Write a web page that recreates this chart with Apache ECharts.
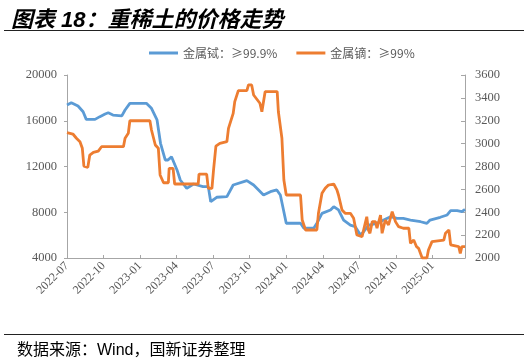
<!DOCTYPE html>
<html>
<head>
<meta charset="utf-8">
<script src="https://cdn.jsdelivr.net/npm/echarts@6/dist/echarts.min.js"></script>
<style>html,body{margin:0;padding:0;background:#fff;}#c{width:529px;height:362px;}</style>
</head>
<body>
<div id="c"></div>
<script>
// ---- data ----
const titleText = '图表 18：重稀土的价格走势';
const sourceText = '数据来源：Wind，国新证券整理';
const seriesNames = ['金属铽：≥99.9%', '金属镝：≥99%'];
const xTickLabels = ['2022-07','2022-10','2023-01','2023-04','2023-07','2023-10','2024-01','2024-04','2024-07','2024-10','2025-01'];
const leftTicks = [4000, 8000, 12000, 16000, 20000];
const rightTicks = [2000, 2200, 2400, 2600, 2800, 3000, 3200, 3400, 3600];
const xStart = '2022-07-01';
const xEnd = '2025-03-22';

// 金属铽 (left axis)
const tbDates = ['2022-07-01','2022-07-12','2022-07-29','2022-08-11','2022-08-19','2022-09-10','2022-09-22','2022-10-05','2022-10-13','2022-10-25','2022-11-16','2022-11-24','2022-12-06','2023-01-17','2023-01-30','2023-02-12','2023-02-20','2023-03-03','2023-03-10','2023-03-19','2023-04-02','2023-04-10','2023-04-26','2023-05-13','2023-06-06','2023-06-19','2023-06-25','2023-07-10','2023-08-05','2023-08-21','2023-09-24','2023-10-11','2023-11-05','2023-11-22','2023-12-08','2023-12-17','2023-12-25','2024-01-01','2024-02-06','2024-02-14','2024-03-09','2024-03-17','2024-03-30','2024-04-20','2024-04-28','2024-05-10','2024-05-23','2024-06-09','2024-06-21','2024-07-04','2024-07-12','2024-07-25','2024-08-15','2024-09-01','2024-09-18','2024-10-04','2024-10-20','2024-11-07','2024-12-02','2024-12-18','2024-12-26','2025-01-21','2025-02-07','2025-02-15','2025-03-02','2025-03-14','2025-03-22'];
const tbValues = [17380,17580,17290,16790,16120,16120,16360,16590,16700,16500,16420,16940,17520,17520,17085,16070,14030,12570,12570,12860,11700,10820,10090,10470,10240,10240,8920,9310,9360,10380,10760,10380,9510,9800,9950,9510,8200,7040,7040,6600,6600,7040,7900,8200,8490,8200,7320,6880,6740,6010,6300,6880,7030,7320,7610,7460,7460,7320,7170,7030,7320,7560,7760,8140,8140,8050,8260];

// 金属镝 (right axis)
const dyDates = ['2022-07-01','2022-07-16','2022-07-25','2022-08-03','2022-08-09','2022-08-13','2022-08-23','2022-08-28','2022-09-06','2022-09-18','2022-09-26','2022-11-20','2022-11-24','2022-12-02','2022-12-06','2023-01-26','2023-01-30','2023-02-08','2023-02-15','2023-02-19','2023-02-27','2023-03-11','2023-03-13','2023-03-23','2023-03-27','2023-05-25','2023-05-27','2023-06-15','2023-06-19','2023-06-28','2023-07-02','2023-07-08','2023-07-18','2023-08-05','2023-08-09','2023-08-21','2023-08-25','2023-09-03','2023-09-24','2023-09-28','2023-10-06','2023-10-11','2023-10-27','2023-11-01','2023-11-05','2023-11-09','2023-12-09','2023-12-12','2023-12-21','2023-12-26','2024-01-01','2024-02-06','2024-02-10','2024-02-18','2024-03-17','2024-03-21','2024-03-30','2024-04-07','2024-04-15','2024-04-28','2024-05-06','2024-05-10','2024-05-19','2024-05-27','2024-06-09','2024-06-17','2024-06-25','2024-07-08','2024-07-16','2024-07-20','2024-07-24','2024-07-28','2024-08-03','2024-08-11','2024-08-15','2024-08-24','2024-08-28','2024-09-05','2024-09-13','2024-09-22','2024-09-30','2024-10-08','2024-10-20','2024-11-03','2024-11-07','2024-11-15','2024-11-22','2024-11-27','2024-12-06','2024-12-18','2024-12-22','2024-12-31','2025-01-30','2025-02-03','2025-02-11','2025-02-15','2025-02-19','2025-03-06','2025-03-10','2025-03-14','2025-03-22'];
const dyValues = [3096,3084,3047,3017,2959,2804,2793,2900,2924,2935,2973,2973,3047,3090,3200,3200,3119,2988,2959,2726,2658,2658,2784,2784,2647,2647,2734,2734,2609,2609,2770,2979,3003,3017,3134,3265,3367,3463,3463,3513,3513,3425,3353,3279,3279,3454,3454,3279,3047,2682,2551,2551,2332,2245,2245,2391,2566,2609,2638,2647,2595,2551,2420,2391,2391,2347,2201,2187,2303,2361,2245,2216,2318,2318,2260,2376,2216,2332,2289,2405,2318,2274,2260,2260,2128,2157,2099,2085,2000,2000,2070,2143,2157,2216,2245,2114,2099,2099,2041,2099,2099];

// ---- helpers ----
function monthIndex(s) {
  const p = s.split('-').map(Number);
  const dim = new Date(p[0], p[1], 0).getDate();
  return (p[0] - 2022) * 12 + (p[1] - 7) + (p[2] - 1) / dim;
}
function pairs(dates, vals) { return dates.map((d, i) => [monthIndex(d), vals[i]]); }

const axisGray = '#A6A6A6';
const labelGray = '#595959';
const serif = 'Liberation Serif, serif';
const cjk = 'Noto Sans CJK SC, sans-serif';
const plain = v => String(Math.round(v));

const chart = echarts.init(document.getElementById('c'), null, {renderer: 'canvas'});
chart.setOption({
  backgroundColor: '#fff',
  animation: false,
  title: {
    text: titleText, left: 6, top: 5,
    textStyle: {fontSize: 22, fontWeight: 'bold', fontStyle: 'italic', color: '#000', fontFamily: 'Liberation Sans, Noto Sans CJK SC, sans-serif'}
  },
  legend: {
    left: 144, top: 42, itemWidth: 29, itemHeight: 3, itemGap: 19, icon: 'rect',
    textStyle: {fontSize: 12, color: labelGray, fontFamily: cjk},
    data: seriesNames
  },
  grid: {left: 67, right: 64, top: 75, bottom: 104},
  xAxis: {
    type: 'value', min: monthIndex(xStart), max: monthIndex(xEnd), interval: 3,
    axisLine: {show: true, lineStyle: {color: axisGray}},
    axisTick: {show: true, inside: true, length: 3, lineStyle: {color: axisGray}},
    splitLine: {show: false},
    axisLabel: {
      rotate: 45, margin: 6, color: labelGray, fontSize: 12, fontFamily: serif, showMaxLabel: false,
      formatter: v => { const k = Math.round(v / 3); return (Math.abs(v - k * 3) < 1e-6 && xTickLabels[k]) ? xTickLabels[k] : ''; }
    }
  },
  yAxis: [
    {
      type: 'value', min: leftTicks[0], max: leftTicks[leftTicks.length - 1], interval: leftTicks[1] - leftTicks[0],
      axisLine: {show: true, lineStyle: {color: axisGray}},
      axisTick: {show: true, length: 3, lineStyle: {color: axisGray}},
      splitLine: {show: false},
      axisLabel: {margin: 10, color: labelGray, fontSize: 12.5, fontFamily: serif, formatter: plain}
    },
    {
      type: 'value', min: rightTicks[0], max: rightTicks[rightTicks.length - 1], interval: rightTicks[1] - rightTicks[0],
      position: 'right',
      axisLine: {show: true, lineStyle: {color: axisGray}},
      axisTick: {show: true, inside: true, length: 4, lineStyle: {color: axisGray}},
      splitLine: {show: false},
      axisLabel: {margin: 10, color: labelGray, fontSize: 12.5, fontFamily: serif, formatter: plain}
    }
  ],
  series: [
    {name: seriesNames[0], type: 'line', yAxisIndex: 0, data: pairs(tbDates, tbValues), showSymbol: false, color: '#5B9BD5', lineStyle: {width: 2.8, color: '#5B9BD5'}},
    {name: seriesNames[1], type: 'line', yAxisIndex: 1, data: pairs(dyDates, dyValues), showSymbol: false, color: '#ED7D31', lineStyle: {width: 2.8, color: '#ED7D31'}}
  ],
  graphic: [
    {type: 'line', shape: {x1: 4, y1: 30.5, x2: 524, y2: 30.5}, style: {stroke: '#222', lineWidth: 1.2}},
    {type: 'line', shape: {x1: 4, y1: 334.5, x2: 524, y2: 334.5}, style: {stroke: '#222', lineWidth: 1.2}},
    {type: 'text', left: 17, top: 343, style: {text: sourceText, fontSize: 16, fill: '#000', fontFamily: 'Liberation Sans, Noto Sans CJK SC, sans-serif'}}
  ]
});
</script>
</body>
</html>
